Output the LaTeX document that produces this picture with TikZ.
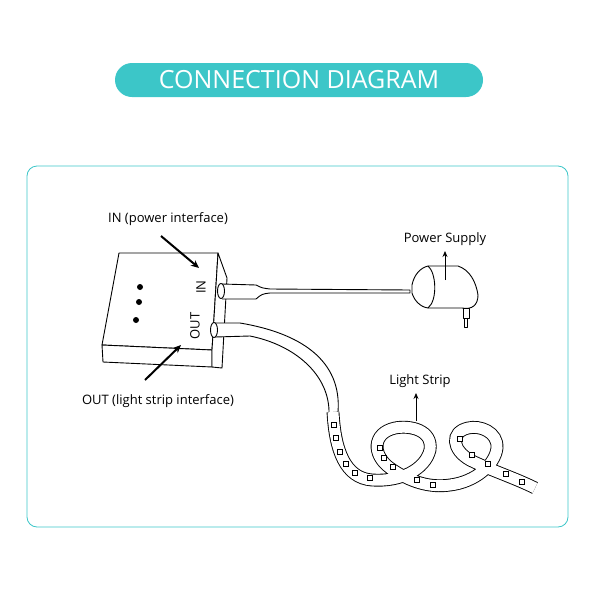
\documentclass[tikz,border=0pt]{standalone}
\usepackage{fontspec}
\setmainfont{Open Sans}
\usetikzlibrary{arrows.meta}
\begin{document}
\begin{tikzpicture}[x=1pt,y=-1pt,
  lbl/.style={font=\fontsize{13}{15}\selectfont},
  ln/.style={line width=0.9pt,line join=round},
  arr/.style={line width=2pt,-{Stealth[length=8pt,width=7pt]}},
  tarr/.style={line width=0.8pt,-{Stealth[length=6pt,width=5pt]}},
  led/.style={draw,line width=0.7pt,fill=white,minimum size=5.5pt,inner sep=0pt}]
\definecolor{teal}{HTML}{3CC6C8}
\useasboundingbox (0,0) rectangle (600,600);
% title
\node[fill=teal,rounded corners=17pt,minimum width=368pt,minimum height=34pt,text=white,font=\fontsize{25}{28}\selectfont] (title) at (299,80) {CONNECTION DIAGRAM};
% panel
\draw[teal,line width=0.8pt,rounded corners=10pt] (27,166) rectangle (568,527);
% box
\draw[ln,fill=white] (119,253) -- (218,253) -- (212,350) -- (102,345) -- cycle;
\draw[ln,fill=white] (102,345) -- (212,350) -- (212,367) -- (103,362) -- cycle;
\draw[ln,fill=white] (218,253) -- (227,278) -- (222,368) -- (212,367) -- (212,350) -- cycle;
\fill (140,287) circle (3) (139,302) circle (3) (136,320) circle (3);
\node[lbl,rotate=90] (in) at (201,287) {IN};
\node[lbl,rotate=90] (out) at (195,326) {OUT};
% power cable
\draw[ln,fill=white] (222,284) -- (256,285) .. controls (262,288) .. (270,289) -- (410,290) -- (410,293) -- (270,293) .. controls (262,294) .. (256,299) -- (222,299);
\draw[ln,fill=white] (221,291) ellipse (3.5 and 7.5);
% power supply
\draw[ln,fill=white] (412,285) .. controls (414,275) and (420,268) .. (428,266) -- (458,266) .. controls (470,270) and (476,282) .. (478,295) .. controls (478,305) and (472,310) .. (462,308) -- (428,308) .. controls (420,307) and (414,300) .. (412,293) -- cycle;
\draw[ln] (428,266) .. controls (436,272) and (438,300) .. (428,308);
\draw[ln,fill=white] (463,308) rectangle (469,318);
\draw[ln,fill=white] (464,318) rectangle (467,327);
% light strip cable
\draw[ln,fill=white] (215,323) -- (240,323) .. controls (300,333) and (342,360) .. (338,412) -- (329,414) .. controls (330,375) and (295,345) .. (250,336) -- (215,337);
\draw[ln,fill=white] (214,330) ellipse (3.5 and 7.5);
% strip
\draw[line width=0.9pt,double=white,double distance=11pt,line cap=butt]
 (333,412) .. controls (335,450) and (345,478) .. (372,480)
 .. controls (400,482) and (425,470) .. (430,450)
 .. controls (433,430) and (410,425) .. (395,428)
 .. controls (372,433) and (372,455) .. (390,468)
 .. controls (410,482) and (430,488) .. (450,485)
 .. controls (475,482) and (495,465) .. (497,448)
 .. controls (498,432) and (480,425) .. (468,428)
 .. controls (450,432) and (452,450) .. (470,460)
 .. controls (490,470) and (515,478) .. (535,488);
\foreach \p in {{(334,425)},{(336,438)},{(340,452)},{(346,464)},{(355,473)},{(370,478)},{(380,448)},{(384,458)},{(393,467)},{(417,480)},{(433,485)},{(460,439)},{(472,455)},{(488,464)},{(506,474)},{(522,482)}}
  \node[led] at \p {};
% labels & arrows
\node[lbl] (inl) at (168,219) {IN (power interface)};
\draw[arr] (161,236) -- (199,268);
\node[lbl] (outl) at (158,401) {OUT (light strip interface)};
\draw[arr] (145,380) -- (181,345);
\node[lbl] (psl) at (445,239) {Power Supply};
\draw[tarr] (445,280) -- (445,251);
\node[lbl] (lsl) at (420,381) {Light Strip};
\draw[tarr] (416,421) -- (416,393);
\end{tikzpicture}
\end{document}
